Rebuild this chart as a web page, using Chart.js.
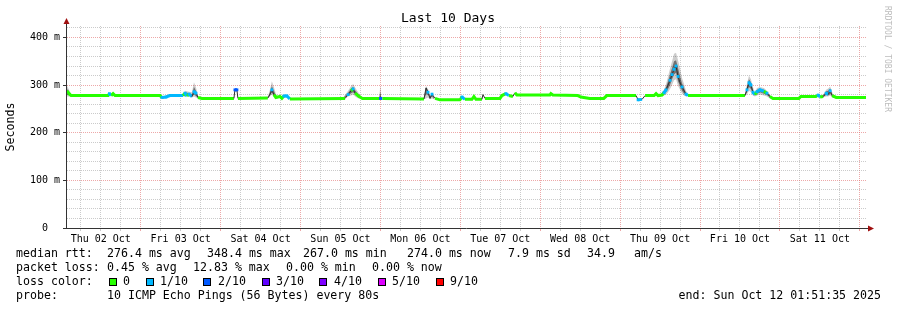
<!DOCTYPE html>
<html>
<head>
<meta charset="utf-8">
<script src="https://cdn.jsdelivr.net/npm/chart.js@4.4.1/dist/chart.umd.min.js"></script>
<style>
  html, body { margin: 0; padding: 0; background: #fff; }
</style>
</head>
<body>
<canvas id="chart" width="897" height="310"></canvas>
<script>
// hours since Thu 02 Oct 00:00, the graph runs 01:51:35 -> +240h
const startHour = 1.86;
const endHour = 241.86;

const dayLabels = ['Thu 02 Oct', 'Fri 03 Oct', 'Sat 04 Oct', 'Sun 05 Oct', 'Mon 06 Oct',
  'Tue 07 Oct', 'Wed 08 Oct', 'Thu 09 Oct', 'Fri 10 Oct', 'Sat 11 Oct'];
const yLabels = { 0: '0  ', 100: '100 m', 200: '200 m', 300: '300 m', 400: '400 m' };

// median rtt (ms) and loss (pings lost out of 10)
const hours = [1.86, 2.5, 3.1, 14.2, 14.6, 15.1, 15.7, 16.3, 29.8, 30.4,
  31.6, 32.8, 36.7, 37.3, 37.9, 38.5, 39.4, 40.0, 40.6, 41.2,
  42.4, 52.0, 52.3, 52.9, 53.2, 62.2, 62.8, 63.4, 64.0, 64.6,
  65.8, 66.4, 67.0, 67.9, 68.8, 85.4, 86.3, 87.2, 87.8, 88.4,
  89.4, 90.6, 95.7, 96.0, 96.6, 109.1, 109.7, 110.3, 110.9, 111.5,
  112.4, 113.9, 119.9, 120.5, 121.4, 123.5, 124.1, 124.7, 126.5, 126.8,
  127.4, 131.9, 132.5, 133.7, 134.6, 135.8, 136.4, 137.0, 146.9, 147.2,
  147.8, 155.3, 156.2, 158.9, 163.1, 164.0, 172.8, 173.4, 174.6, 175.5,
  178.2, 178.8, 179.4, 180.6, 181.2, 181.8, 182.4, 183.0, 183.6, 184.2,
  184.8, 185.4, 186.0, 186.6, 187.2, 187.8, 188.4, 205.5, 206.1, 206.7,
  207.3, 207.9, 208.5, 209.1, 210.0, 211.2, 212.1, 213.0, 213.9, 221.7,
  222.3, 226.8, 227.5, 228.1, 229.0, 229.9, 230.5, 231.1, 231.7, 232.9,
  241.86];
const medianMs = [288, 282, 278, 278, 282, 278, 282, 278, 278, 274,
  275, 278, 278, 283, 277, 281, 276, 286, 283, 274,
  272, 272, 290, 290, 272, 273, 280, 290, 280, 274,
  276, 272, 277, 277, 271, 272, 280, 288, 292, 283,
  277, 272, 272, 272, 272, 271, 294, 285, 272, 281,
  272, 269, 269, 275, 270, 270, 276, 270, 270, 280,
  272, 272, 278, 282, 278, 276, 284, 279, 279, 282,
  279, 278, 275, 272, 272, 278, 278, 269, 270, 278,
  278, 282, 278, 279, 284, 290, 300, 310, 322, 333,
  340, 318, 305, 296, 288, 281, 278, 278, 290, 305,
  300, 285, 280, 286, 290, 287, 283, 276, 272, 272,
  276, 276, 279, 275, 276, 283, 280, 288, 278, 274,
  274];
const lossOf10 = [0, 0, 0, 0, 1, 0, 0, 0, 0, 1,
  1, 1, 0, 1, 0, 1, 0, 1, 1, 0,
  0, 0, 2, 2, 0, 0, 0, 1, 0, 0,
  0, 0, 1, 1, 0, 0, 1, 0, 1, 0,
  0, 0, 0, 2, 0, 0, 0, 1, 0, 1,
  0, 0, 0, 1, 0, 0, 0, 0, 0, 0,
  0, 0, 0, 1, 0, 0, 0, 0, 0, 0,
  0, 0, 0, 0, 0, 0, 0, 1, 0, 0,
  0, 0, 0, 0, 1, 1, 0, 1, 1, 1,
  1, 1, 0, 1, 0, 1, 0, 0, 1, 1,
  1, 1, 0, 1, 1, 0, 1, 0, 0, 0,
  0, 0, 1, 0, 0, 1, 0, 1, 0, 0,
  0];

// smoke (spread of the 10 pings), only where it shows above the median line
const smokeHours = [1.86, 2.5, 3.1, null,
  36.7, 37.3, 38.5, 39.4, 40.0, 40.6, 41.2, null,
  62.2, 62.8, 63.4, 64.0, 64.6, 65.2, null,
  84.8, 86.3, 87.2, 87.8, 88.4, 89.4, 90.6, null,
  95.6, 96.0, 96.3, null,
  109.1, 109.7, 110.3, 110.9, 111.5, 112.1, null,
  180.0, 181.2, 181.8, 182.4, 183.0, 183.6, 184.2, 184.8, 185.4, 186.0, 186.6, 187.2, 187.8, 188.4, null,
  205.5, 206.1, 206.7, 207.3, 207.9, 208.5, 209.1, 210.0, 211.2, 212.1, 213.0, 213.6, null,
  227.5, 228.1, 229.0, 229.9, 230.5, 231.1, 231.7, 232.3];
// outer smoke: fastest and slowest ping
const smokeLo = [276, 276, 276, null,
  276, 276, 276, 274, 276, 274, 272, null,
  272, 276, 280, 276, 272, 272, null,
  271, 276, 278, 280, 276, 272, 271, null,
  272, 272, 272, null,
  270, 272, 274, 270, 272, 270, null,
  277, 278, 280, 285, 292, 300, 310, 312, 298, 290, 282, 278, 276, 277, null,
  277, 280, 288, 285, 278, 276, 278, 280, 278, 276, 272, 271, null,
  274, 273, 274, 276, 276, 278, 274, 273];
const smokeHi = [298, 290, 280, null,
  280, 288, 286, 285, 306, 295, 278, null,
  275, 290, 308, 296, 282, 276, null,
  274, 288, 298, 302, 295, 284, 274, null,
  274, 299, 274, null,
  274, 298, 292, 278, 284, 274, null,
  280, 290, 302, 318, 335, 350, 366, 368, 352, 335, 315, 302, 288, 280, null,
  280, 302, 320, 312, 296, 284, 294, 296, 294, 288, 280, 274, null,
  282, 278, 280, 290, 293, 297, 285, 276];
// inner (darker) smoke: the middle pings
const coreLo = [280, 278, 277, null,
  277, 278, 278, 275, 280, 277, 273, null,
  273, 278, 284, 278, 273, 273, null,
  272, 278, 283, 285, 280, 274, 272, null,
  273, 273, 273, null,
  271, 280, 280, 272, 276, 271, null,
  278, 281, 285, 292, 300, 312, 322, 326, 308, 298, 288, 282, 278, 278, null,
  278, 285, 296, 292, 282, 278, 282, 285, 282, 279, 274, 272, null,
  276, 274, 275, 279, 278, 282, 276, 273];
const coreHi = [292, 286, 279, null,
  279, 285, 283, 280, 296, 288, 276, null,
  274, 285, 298, 288, 278, 275, null,
  273, 284, 293, 296, 289, 280, 273, null,
  273, 285, 273, null,
  273, 296, 288, 276, 282, 273, null,
  279, 287, 296, 308, 322, 336, 350, 352, 336, 318, 304, 294, 284, 279, null,
  279, 296, 312, 306, 290, 282, 290, 292, 290, 285, 278, 273, null,
  280, 277, 278, 287, 288, 293, 281, 275];

const lossColors = ['#26ff00', '#00b8ff', '#0059ff', '#5e00ff', '#7e00ff', '#dd00ff',
  '#dd00ff', '#dd00ff', '#dd00ff', '#ff0000', '#ff0000'];
const legendItems = [
  { label: '0', color: '#26ff00', sx: 109, tx: 123 },
  { label: '1/10', color: '#00b8ff', sx: 146, tx: 160 },
  { label: '2/10', color: '#0059ff', sx: 203, tx: 218 },
  { label: '3/10', color: '#5e00ff', sx: 262, tx: 276 },
  { label: '4/10', color: '#7e00ff', sx: 319, tx: 334 },
  { label: '5/10', color: '#dd00ff', sx: 378, tx: 392 },
  { label: '9/10', color: '#ff0000', sx: 436, tx: 450 }
];

const mono = "'DejaVu Sans Mono', monospace";
const gridGray = 'rgba(160,160,160,0.55)';
const gridRed = 'rgba(225,110,110,0.6)';

const toPoints = (xs, ys) => xs.map((x, i) => ({ x: x, y: ys[i] }));

// steep median segments look like dark smoke in smokeping, flat ones carry the loss colour
const isSteep = c => Math.abs(c.p1.parsed.y - c.p0.parsed.y) > 6;

// everything rrdtool draws around the plot
const decorations = {
  id: 'decorations',
  afterDraw(chart) {
    const ctx = chart.ctx;
    const area = chart.chartArea;
    ctx.save();

    // axes with arrows
    ctx.strokeStyle = '#333';
    ctx.lineWidth = 1;
    ctx.beginPath();
    ctx.moveTo(area.left - 0.5, area.bottom + 0.5);
    ctx.lineTo(area.left - 0.5, 22);
    ctx.moveTo(area.left - 4, area.bottom + 0.5);
    ctx.lineTo(870, area.bottom + 0.5);
    ctx.stroke();
    ctx.fillStyle = '#a01010';
    ctx.beginPath();
    ctx.moveTo(area.left - 3.5, 24);
    ctx.lineTo(area.left + 2.5, 24);
    ctx.lineTo(area.left - 0.5, 18);
    ctx.fill();
    ctx.beginPath();
    ctx.moveTo(868, area.bottom - 2.5);
    ctx.lineTo(868, area.bottom + 3.5);
    ctx.lineTo(874, area.bottom + 0.5);
    ctx.fill();

    ctx.fillStyle = '#000';
    ctx.textBaseline = 'middle';

    // title
    ctx.font = '13px ' + mono;
    ctx.textAlign = 'center';
    ctx.fillText('Last 10 Days', 448, 19);

    // y axis title
    ctx.save();
    ctx.translate(11, 127);
    ctx.rotate(-Math.PI / 2);
    ctx.font = '11.6px ' + mono;
    ctx.fillText('Seconds', 0, 0);
    ctx.restore();

    // watermark
    ctx.save();
    ctx.translate(887, 59);
    ctx.rotate(Math.PI / 2);
    ctx.font = '8px ' + mono;
    ctx.fillStyle = '#bdbdbd';
    ctx.fillText('RRDTOOL / TOBI OETIKER', 0, 0);
    ctx.restore();

    // legend block
    ctx.font = '11.6px ' + mono;
    ctx.textAlign = 'left';
    const rows = [
      [254, [[16, 'median rtt:'], [107, '276.4 ms avg'], [207, '348.4 ms max'], [303, '267.0 ms min'],
        [407, '274.0 ms now'], [508, '7.9 ms sd'], [587, '34.9'], [634, 'am/s']]],
      [268, [[16, 'packet loss:'], [107, '0.45 % avg'], [193, '12.83 % max'], [286, '0.00 % min'],
        [372, '0.00 % now']]],
      [282, [[16, 'loss color:']]],
      [296, [[16, 'probe:'], [107, '10 ICMP Echo Pings (56 Bytes) every 80s']]]
    ];
    rows.forEach(([y, chunks]) => {
      chunks.forEach(([x, text]) => ctx.fillText(text, x, y));
    });
    legendItems.forEach(item => {
      ctx.fillStyle = item.color;
      ctx.fillRect(item.sx, 278, 8, 8);
      ctx.strokeStyle = '#000';
      ctx.strokeRect(item.sx + 0.5, 278.5, 7, 7);
      ctx.fillStyle = '#000';
      ctx.fillText(item.label, item.tx, 282);
    });
    ctx.textAlign = 'right';
    ctx.fillText('end: Sun Oct 12 01:51:35 2025', 881, 296);

    ctx.restore();
  }
};

new Chart(document.getElementById('chart'), {
  type: 'line',
  data: {
    datasets: [
      {
        label: 'median',
        data: toPoints(hours, medianMs),
        borderWidth: 3,
        borderColor: lossColors[0],
        segment: {
          borderColor: c => isSteep(c) ? '#303030' : lossColors[lossOf10[c.p0DataIndex]],
          borderWidth: c => isSteep(c) ? 1 : 3
        },
        pointStyle: 'rect',
        pointRadius: c => lossOf10[c.dataIndex] > 0 ? 2 : 0,
        pointBorderWidth: 0,
        pointBackgroundColor: c => lossColors[lossOf10[c.dataIndex]],
        tension: 0,
        fill: false,
        order: 0
      },
      {
        label: 'smoke low',
        data: toPoints(smokeHours, smokeLo),
        borderWidth: 0,
        pointRadius: 0,
        fill: false,
        spanGaps: false,
        order: 3
      },
      {
        label: 'smoke high',
        data: toPoints(smokeHours, smokeHi),
        borderWidth: 0,
        pointRadius: 0,
        backgroundColor: 'rgba(0,0,0,0.2)',
        fill: '-1',
        spanGaps: false,
        order: 2
      },
      {
        label: 'core low',
        data: toPoints(smokeHours, coreLo),
        borderWidth: 0,
        pointRadius: 0,
        fill: false,
        spanGaps: false,
        order: 1
      },
      {
        label: 'core high',
        data: toPoints(smokeHours, coreHi),
        borderWidth: 0,
        pointRadius: 0,
        backgroundColor: 'rgba(0,0,0,0.45)',
        fill: '-1',
        spanGaps: false,
        order: 1
      }
    ]
  },
  options: {
    responsive: false,
    animation: false,
    events: [],
    layout: { padding: { top: 26, right: 31, left: 0, bottom: 0 } },
    plugins: {
      legend: { display: false },
      title: { display: false },
      tooltip: { enabled: false }
    },
    scales: {
      x: {
        type: 'linear',
        min: startHour,
        max: endHour,
        afterFit: s => { s.height = 82; },
        afterBuildTicks: s => {
          const t = [];
          for (let h = 6; h <= endHour; h += 6) t.push({ value: h });
          s.ticks = t;
        },
        border: { display: false, dash: [1, 1] },
        grid: {
          color: c => (c.tick && c.tick.value % 24 === 0) ? gridRed : gridGray,
          tickColor: c => (c.tick && c.tick.value % 24 === 0) ? gridRed : gridGray,
          tickLength: 3,
          lineWidth: 1
        },
        ticks: {
          autoSkip: false,
          maxRotation: 0,
          padding: 2,
          color: '#000',
          font: { family: mono, size: 10 },
          callback: v => (v % 24 === 12) ? dayLabels[(v - 12) / 24] : ''
        }
      },
      y: {
        type: 'linear',
        min: 0,
        max: 424,
        afterFit: s => { s.width = 67; },
        afterBuildTicks: s => {
          const t = [];
          for (let v = 0; v <= 420; v += 20) t.push({ value: v });
          s.ticks = t;
        },
        border: { display: false, dash: [1, 1] },
        grid: {
          color: c => (c.tick && c.tick.value % 100 === 0) ? gridRed : gridGray,
          tickColor: c => (c.tick && c.tick.value % 100 === 0) ? '#333' : 'rgba(0,0,0,0)',
          tickLength: 4,
          lineWidth: 1
        },
        ticks: {
          autoSkip: false,
          padding: 3,
          color: '#000',
          font: { family: mono, size: 10 },
          callback: v => yLabels[v] !== undefined ? yLabels[v] : ''
        }
      }
    }
  },
  plugins: [decorations]
});
</script>
</body>
</html>
